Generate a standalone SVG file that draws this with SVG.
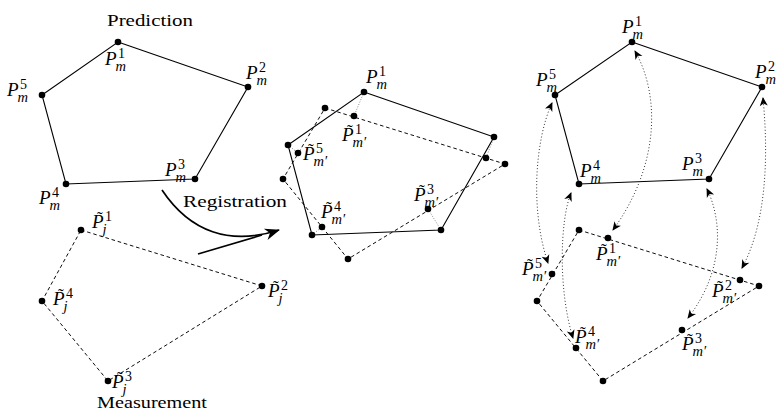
<svg xmlns="http://www.w3.org/2000/svg" width="781" height="413" viewBox="0 0 781 413" font-family="Liberation Serif, DejaVu Serif, serif">
  <style>
    .edge { fill: none; stroke: #000; stroke-width: 1.1; }
    .dash { fill: none; stroke: #000; stroke-width: 0.95; stroke-dasharray: 3.6 2.8; }
    .link { fill: none; stroke: #8a8a8a; stroke-width: 1; stroke-dasharray: 1 1.6; }
    .match { fill: none; stroke: #333; stroke-width: 1; stroke-dasharray: 1 2.2; marker-start: url(#stealth); marker-end: url(#stealth); }
    .reg { fill: none; stroke: #000; stroke-width: 1.7; }
    .pt { fill: #000; }
    text { font-family: "Liberation Serif", "DejaVu Serif", serif; fill: #000; }
    .word { font-size: 17px; }
    .lab { font-size: 19px; font-style: italic; }
    .sc { font-size: 14px; font-style: normal; }
    .sci { font-size: 14.5px; font-style: italic; }
    .tl { font-size: 17px; font-style: normal; }
  </style>
  <defs>
    <marker id="stealth" viewBox="-10 -5 12 10" markerWidth="12" markerHeight="10" refX="0" refY="0" orient="auto-start-reverse" markerUnits="userSpaceOnUse">
      <path d="M1,0 L-8,-4 L-5.5,0 L-8,4 Z" fill="#000"/>
    </marker>
    <marker id="bigstealth" viewBox="-16 -8 18 16" markerWidth="18" markerHeight="16" refX="0" refY="0" orient="auto" markerUnits="userSpaceOnUse">
      <path d="M1,0 L-14,-6 L-9.5,0 L-14,6 Z" fill="#000"/>
    </marker>
  </defs>

  <!-- connectors -->
  <g id="connectors">
    <!-- predicted outline -->
    <polygon class="edge" points="118,42 248,87 195,179 66,184 42,95"/>
    <!-- measured outline -->
    <polygon class="dash" points="81,230 262,286 108,381 42,301"/>
    <!-- registration arrow -->
    <path class="reg" d="M162,190 C190,232 230,246 279,230" marker-end="url(#bigstealth)"/>
    <path class="reg" d="M198,254 L262,235"/>
    <!-- registered overlay -->
    <polygon class="edge" points="364,92 494,137 441,230 312,235 288,145"/>
    <polygon class="dash" points="325,108 505,164 348,259 283,179"/>
    <path class="link" d="M364,92 L354,116"/>
    <path class="link" d="M494,137 L486,158"/>
    <path class="link" d="M441,230 L428,209"/>
    <path class="link" d="M312,235 L322,227"/>
    <path class="link" d="M288,145 L298,153"/>
    <!-- correspondences -->
    <polygon class="edge" points="632,42 762,87 709,179 579,184 555,95"/>
    <polygon class="dash" points="579,230 759,286 603,381 537,301"/>
    <path class="match" d="M635,51 C660,95 660,165 613,230"/>
    <path class="match" d="M763,98 C768,150 768,220 742,268"/>
    <path class="match" d="M707,189 C722,220 725,270 688,318"/>
    <path class="match" d="M571,193 C560,220 558,290 573,338"/>
    <path class="match" d="M552,103 C535,140 530,210 548,263"/>
  </g>

  <!-- captions -->
  <text class="word" x="107" y="26" textLength="86" lengthAdjust="spacingAndGlyphs">Prediction</text>
  <text class="word" x="183" y="207" textLength="104" lengthAdjust="spacingAndGlyphs">Registration</text>
  <text class="word" x="97" y="408" textLength="110" lengthAdjust="spacingAndGlyphs">Measurement</text>

  <!-- predicted points -->
  <g id="pred-p1"><circle class="pt" cx="118" cy="42" r="3.3"/>
    <text class="lab" transform="translate(105,65)"><tspan x="0" y="0">P</tspan><tspan class="sc" x="13" y="-7.5">1</tspan><tspan class="sci" x="10.5" y="5.5">m</tspan></text></g>
  <g id="pred-p2"><circle class="pt" cx="248" cy="87" r="3.3"/>
    <text class="lab" transform="translate(246,79)"><tspan x="0" y="0">P</tspan><tspan class="sc" x="13" y="-7.5">2</tspan><tspan class="sci" x="10.5" y="5.5">m</tspan></text></g>
  <g id="pred-p3"><circle class="pt" cx="195" cy="179" r="3.3"/>
    <text class="lab" transform="translate(165,176)"><tspan x="0" y="0">P</tspan><tspan class="sc" x="13" y="-7.5">3</tspan><tspan class="sci" x="10.5" y="5.5">m</tspan></text></g>
  <g id="pred-p4"><circle class="pt" cx="66" cy="184" r="3.3"/>
    <text class="lab" transform="translate(39,204)"><tspan x="0" y="0">P</tspan><tspan class="sc" x="13" y="-7.5">4</tspan><tspan class="sci" x="10.5" y="5.5">m</tspan></text></g>
  <g id="pred-p5"><circle class="pt" cx="42" cy="95" r="3.3"/>
    <text class="lab" transform="translate(7,96)"><tspan x="0" y="0">P</tspan><tspan class="sc" x="13" y="-7.5">5</tspan><tspan class="sci" x="10.5" y="5.5">m</tspan></text></g>

  <!-- measured points -->
  <g id="meas-j1"><circle class="pt" cx="81" cy="230" r="3.3"/>
    <text class="lab" transform="translate(92,228)"><tspan class="tl" x="5" y="-5">˜</tspan><tspan x="0" y="0">P</tspan><tspan class="sc" x="13" y="-7.5">1</tspan><tspan class="sci" x="10.5" y="5.5">j</tspan></text></g>
  <g id="meas-j2"><circle class="pt" cx="262" cy="286" r="3.3"/>
    <text class="lab" transform="translate(268,297)"><tspan class="tl" x="5" y="-5">˜</tspan><tspan x="0" y="0">P</tspan><tspan class="sc" x="13" y="-7.5">2</tspan><tspan class="sci" x="10.5" y="5.5">j</tspan></text></g>
  <g id="meas-j3"><circle class="pt" cx="108" cy="381" r="3.3"/>
    <text class="lab" transform="translate(112,388)"><tspan class="tl" x="5" y="-5">˜</tspan><tspan x="0" y="0">P</tspan><tspan class="sc" x="13" y="-7.5">3</tspan><tspan class="sci" x="10.5" y="5.5">j</tspan></text></g>
  <g id="meas-j4"><circle class="pt" cx="42" cy="301" r="3.3"/>
    <text class="lab" transform="translate(53,305)"><tspan class="tl" x="5" y="-5">˜</tspan><tspan x="0" y="0">P</tspan><tspan class="sc" x="13" y="-7.5">4</tspan><tspan class="sci" x="10.5" y="5.5">j</tspan></text></g>

  <!-- registered model points -->
  <g id="reg-m1"><circle class="pt" cx="364" cy="92" r="3.3"/>
    <text class="lab" transform="translate(366,83)"><tspan x="0" y="0">P</tspan><tspan class="sc" x="13" y="-7.5">1</tspan><tspan class="sci" x="10.5" y="5.5">m</tspan></text></g>
  <g id="reg-m2"><circle class="pt" cx="494" cy="137" r="3.3"/></g>
  <g id="reg-m3"><circle class="pt" cx="441" cy="230" r="3.3"/></g>
  <g id="reg-m4"><circle class="pt" cx="312" cy="235" r="3.3"/></g>
  <g id="reg-m5"><circle class="pt" cx="288" cy="145" r="3.3"/></g>
  <g id="reg-d1"><circle class="pt" cx="325" cy="108" r="3.3"/></g>
  <g id="reg-d2"><circle class="pt" cx="505" cy="164" r="3.3"/></g>
  <g id="reg-d3"><circle class="pt" cx="348" cy="259" r="3.3"/></g>
  <g id="reg-d4"><circle class="pt" cx="283" cy="179" r="3.3"/></g>
  <g id="reg-q1"><circle class="pt" cx="354" cy="116" r="3.3"/>
    <text class="lab" transform="translate(342,141)"><tspan class="tl" x="5" y="-5">˜</tspan><tspan x="0" y="0">P</tspan><tspan class="sc" x="13" y="-7.5">1</tspan><tspan class="sci" x="10.5" y="5.5">m′</tspan></text></g>
  <g id="reg-q2"><circle class="pt" cx="486" cy="158" r="3.3"/></g>
  <g id="reg-q3"><circle class="pt" cx="428" cy="209" r="3.3"/>
    <text class="lab" transform="translate(414,201)"><tspan class="tl" x="5" y="-5">˜</tspan><tspan x="0" y="0">P</tspan><tspan class="sc" x="13" y="-7.5">3</tspan><tspan class="sci" x="10.5" y="5.5">m′</tspan></text></g>
  <g id="reg-q4"><circle class="pt" cx="322" cy="227" r="3.3"/>
    <text class="lab" transform="translate(321,218)"><tspan class="tl" x="5" y="-5">˜</tspan><tspan x="0" y="0">P</tspan><tspan class="sc" x="13" y="-7.5">4</tspan><tspan class="sci" x="10.5" y="5.5">m′</tspan></text></g>
  <g id="reg-q5"><circle class="pt" cx="298" cy="153" r="3.3"/>
    <text class="lab" transform="translate(303,160)"><tspan class="tl" x="5" y="-5">˜</tspan><tspan x="0" y="0">P</tspan><tspan class="sc" x="13" y="-7.5">5</tspan><tspan class="sci" x="10.5" y="5.5">m′</tspan></text></g>

  <!-- correspondence model points -->
  <g id="corr-r1"><circle class="pt" cx="632" cy="42" r="3.3"/>
    <text class="lab" transform="translate(622,33)"><tspan x="0" y="0">P</tspan><tspan class="sc" x="13" y="-7.5">1</tspan><tspan class="sci" x="10.5" y="5.5">m</tspan></text></g>
  <g id="corr-r2"><circle class="pt" cx="762" cy="87" r="3.3"/>
    <text class="lab" transform="translate(755,78)"><tspan x="0" y="0">P</tspan><tspan class="sc" x="13" y="-7.5">2</tspan><tspan class="sci" x="10.5" y="5.5">m</tspan></text></g>
  <g id="corr-r3"><circle class="pt" cx="709" cy="179" r="3.3"/>
    <text class="lab" transform="translate(682,170)"><tspan x="0" y="0">P</tspan><tspan class="sc" x="13" y="-7.5">3</tspan><tspan class="sci" x="10.5" y="5.5">m</tspan></text></g>
  <g id="corr-r4"><circle class="pt" cx="579" cy="184" r="3.3"/>
    <text class="lab" transform="translate(580,177)"><tspan x="0" y="0">P</tspan><tspan class="sc" x="13" y="-7.5">4</tspan><tspan class="sci" x="10.5" y="5.5">m</tspan></text></g>
  <g id="corr-r5"><circle class="pt" cx="555" cy="95" r="3.3"/>
    <text class="lab" transform="translate(536,86)"><tspan x="0" y="0">P</tspan><tspan class="sc" x="13" y="-7.5">5</tspan><tspan class="sci" x="10.5" y="5.5">m</tspan></text></g>
  <g id="corr-s1"><circle class="pt" cx="579" cy="230" r="3.3"/></g>
  <g id="corr-s2"><circle class="pt" cx="759" cy="286" r="3.3"/></g>
  <g id="corr-s3"><circle class="pt" cx="603" cy="381" r="3.3"/></g>
  <g id="corr-s4"><circle class="pt" cx="537" cy="301" r="3.3"/></g>
  <g id="corr-t1"><circle class="pt" cx="608" cy="238" r="3.3"/>
    <text class="lab" transform="translate(596,260)"><tspan class="tl" x="5" y="-5">˜</tspan><tspan x="0" y="0">P</tspan><tspan class="sc" x="13" y="-7.5">1</tspan><tspan class="sci" x="10.5" y="5.5">m′</tspan></text></g>
  <g id="corr-t2"><circle class="pt" cx="740" cy="280" r="3.3"/>
    <text class="lab" transform="translate(712,297)"><tspan class="tl" x="5" y="-5">˜</tspan><tspan x="0" y="0">P</tspan><tspan class="sc" x="13" y="-7.5">2</tspan><tspan class="sci" x="10.5" y="5.5">m′</tspan></text></g>
  <g id="corr-t3"><circle class="pt" cx="682" cy="330" r="3.3"/>
    <text class="lab" transform="translate(682,350)"><tspan class="tl" x="5" y="-5">˜</tspan><tspan x="0" y="0">P</tspan><tspan class="sc" x="13" y="-7.5">3</tspan><tspan class="sci" x="10.5" y="5.5">m′</tspan></text></g>
  <g id="corr-t4"><circle class="pt" cx="576" cy="348" r="3.3"/>
    <text class="lab" transform="translate(575,343)"><tspan class="tl" x="5" y="-5">˜</tspan><tspan x="0" y="0">P</tspan><tspan class="sc" x="13" y="-7.5">4</tspan><tspan class="sci" x="10.5" y="5.5">m′</tspan></text></g>
  <g id="corr-t5"><circle class="pt" cx="552" cy="274" r="3.3"/>
    <text class="lab" transform="translate(522,275)"><tspan class="tl" x="5" y="-5">˜</tspan><tspan x="0" y="0">P</tspan><tspan class="sc" x="13" y="-7.5">5</tspan><tspan class="sci" x="10.5" y="5.5">m′</tspan></text></g>
</svg>
